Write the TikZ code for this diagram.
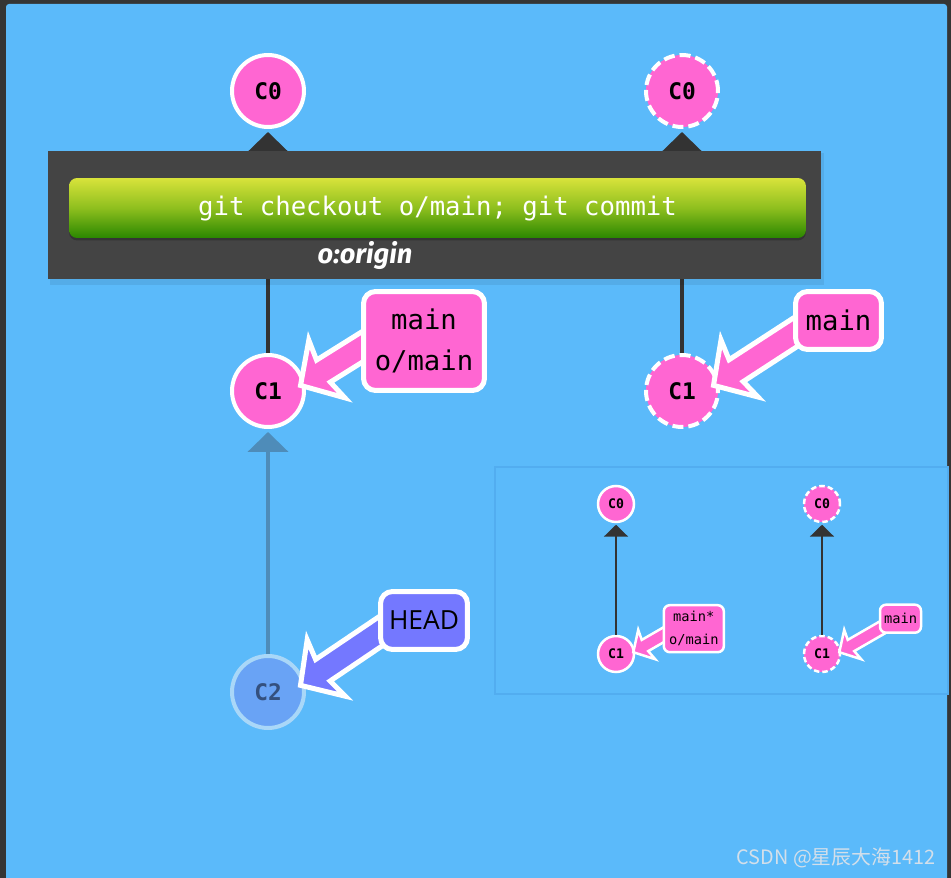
\documentclass[tikz,border=0pt]{standalone}
\usepackage{fontspec}
\setmainfont{DejaVu Sans}
\setmonofont{DejaVu Sans Mono}
\newfontfamily\headfont{Open Sans}
\newfontfamily\originfont{Fira Sans}
\newfontfamily\cjkfont{Noto Sans CJK SC}
\usepackage{xcolor}
\usepackage{tikz}
\usetikzlibrary{arrows.meta,calc,positioning,shadows}
\definecolor{FrameDark}{HTML}{353535}
\definecolor{BgBlue}{HTML}{5BBAFA}
\definecolor{BarGray}{HTML}{444444}
\definecolor{CommitPink}{HTML}{FF66D2}
\definecolor{HeadBlue}{HTML}{7478FF}
\definecolor{FadedFill}{HTML}{69A3F5}
\definecolor{FadedRim}{HTML}{A9D7F8}
\definecolor{FadedInk}{HTML}{34507E}
\definecolor{FadedEdge}{HTML}{4E8CB9}
\definecolor{EdgeInk}{HTML}{333333}
\definecolor{ButtonTop}{HTML}{D8E33B}
\definecolor{ButtonMid}{HTML}{8EBF1E}
\definecolor{ButtonLow}{HTML}{2A8700}
\definecolor{GoalRim}{HTML}{52ADF0}
\definecolor{MarkInk}{HTML}{D3DFEA}
\tikzset{
  every picture/.style={x=0.02cm, y=0.02cm},
  commit/.style={
    circle,
    draw=white,
    line width=0.08cm,
    fill=CommitPink,
    minimum size=1.44cm,
    inner sep=0pt,
    font=\ttfamily\bfseries\fontsize{13}{15}\selectfont
  },
  ghostcommit/.style={commit, dash pattern=on 0.22cm off 0.1cm},
  fadedcommit/.style={commit, fill=FadedFill, draw=FadedRim, text=FadedInk},
  smallcommit/.style={commit, line width=0.05cm, minimum size=0.72cm,
    font=\ttfamily\bfseries\fontsize{7.5}{9}\selectfont},
  ghostsmall/.style={smallcommit, dash pattern=on 0.11cm off 0.06cm},
  branchlabel/.style={
    draw=white,
    line width=0.1cm,
    rounded corners=0.24cm,
    fill=CommitPink,
    align=center,
    inner sep=0pt,
    font=\ttfamily\fontsize{15.5}{23.5}\selectfont
  },
  headlabel/.style={branchlabel, fill=HeadBlue,
    font=\headfont\fontsize{15}{17}\selectfont},
  smalllabel/.style={branchlabel, line width=0.05cm, rounded corners=0.12cm,
    font=\ttfamily\fontsize{7.8}{13}\selectfont},
  parentedge/.style={draw=EdgeInk, line width=0.08cm, shorten >=0.06cm,
    -{Triangle[width=22.7pt,length=11.3pt]}},
  fadededge/.style={parentedge, draw=FadedEdge},
  smalledge/.style={draw=EdgeInk, line width=0.05cm, shorten >=0.03cm,
    -{Triangle[width=13.6pt,length=6.8pt]}},
  pointer/.style={draw=white, line width=0.1cm, line join=miter},
  smallpointer/.style={pointer, line width=0.05cm, scale=0.5},
  cmdbar/.style={rectangle, fill=BarGray, minimum width=15.46cm,
    minimum height=2.56cm, inner sep=0pt},
  cmdbutton/.style={
    rectangle,
    rounded corners=0.16cm,
    top color=ButtonTop,
    bottom color=ButtonLow,
    middle color=ButtonMid,
    minimum width=14.74cm,
    minimum height=1.2cm,
    inner sep=0pt,
    text=white,
    drop shadow={shadow xshift=0pt, shadow yshift=-1.4pt, fill=black!80, opacity=0.9},
    font=\ttfamily\fontsize{14.6}{17}\selectfont
  },
  origintext/.style={text=white, inner sep=0pt,
    font=\originfont\bfseries\itshape\fontsize{15.5}{17}\selectfont},
  goalbox/.style={rectangle, fill=BgBlue, draw=GoalRim, line width=0.03cm,
    minimum width=9.06cm, minimum height=4.54cm, inner sep=0pt},
  watermark/.style={text=MarkInk, inner sep=0pt,
    font=\cjkfont\fontsize{11.3}{13}\selectfont}
}
% pointer from a label to a commit: anchor, tip offset, angle, fill, style, length
\newcommand\pointer[6]{%
  \draw[fill=#4, shift={($(#1)+(#2)$)}, rotate=#3, #5]
    (3,0) -- (34,-34) -- (30,-13) -- (#6,-13) -- (#6,13) -- (30,13) -- (34,34) -- cycle;}

\begin{document}
\begin{tikzpicture}
  \useasboundingbox (0,0) rectangle (951,-878);
  \fill[FrameDark] (0,0) rectangle (951,-878);
  \fill[BgBlue, rounded corners=0.06cm] (6,-4) rectangle (947,-900);

  % commits
  \node[commit] (c0a) at (268,-91) {C0};
  \node[ghostcommit] (c0b) at (682,-91) {C0};
  \node[commit] (c1a) at (268,-391) {C1};
  \node[ghostcommit] (c1b) at (682,-391) {C1};
  \node[fadedcommit] (c2) at (268,-692) {C2};

  \draw[parentedge] (c1a) -- (c0a);
  \draw[parentedge] (c1b) -- (c0b);
  \draw[fadededge] (c2) -- (c1a);

  % command bar
  \fill[black, opacity=0.07] (50,-153) rectangle (824,-285);
  \node[cmdbar] (bar) at (434.5,-215) {};
  \node[cmdbutton] (cmd) at (437.5,-208) {\raisebox{-0.16cm}[0pt][0pt]{git checkout o/main; git commit}};
  \node[origintext] (origin) at (365,-256) {o:origin};

  % branches
  \pointer{c1a.center}{30,4}{32}{CommitPink}{pointer}{95}
  \pointer{c1b.center}{29,4}{33}{CommitPink}{pointer}{115}
  \pointer{c2.center}{30,5}{34}{HeadBlue}{pointer}{115}
  \node[branchlabel, minimum width=2.42cm, minimum height=1.98cm] (lblA) at (424,-341) {main\\o/main};
  \node[branchlabel, minimum width=1.72cm, minimum height=1.16cm] (lblB) at (838.5,-320.5) {main};
  \node[headlabel, minimum width=1.74cm, minimum height=1.16cm] (head) at (424,-620.5) {HEAD};

  % goal
  \node[goalbox] (goal) at (721.5,-580.5) {};
  \node[smallcommit] (g0a) at (616,-504) {C0};
  \node[smallcommit] (g1a) at (616,-654) {C1};
  \node[ghostsmall] (g0b) at (822,-504) {C0};
  \node[ghostsmall] (g1b) at (822,-654) {C1};
  \draw[smalledge] (g1a) -- (g0a);
  \draw[smalledge] (g1b) -- (g0b);
  \pointer{g1a.center}{16,1}{30}{CommitPink}{smallpointer}{100}
  \pointer{g1b.center}{16,1}{30}{CommitPink}{smallpointer}{130}
  \node[smalllabel, minimum width=1.2cm, minimum height=0.94cm] (glA) at (693.8,-628.7) {main*\\o/main};
  \node[smalllabel, minimum width=0.82cm, minimum height=0.56cm] (glB) at (900.5,-618.7) {main};

  \node[watermark] (mark) at (836,-858) {CSDN @星辰大海1412};
\end{tikzpicture}
\end{document}
